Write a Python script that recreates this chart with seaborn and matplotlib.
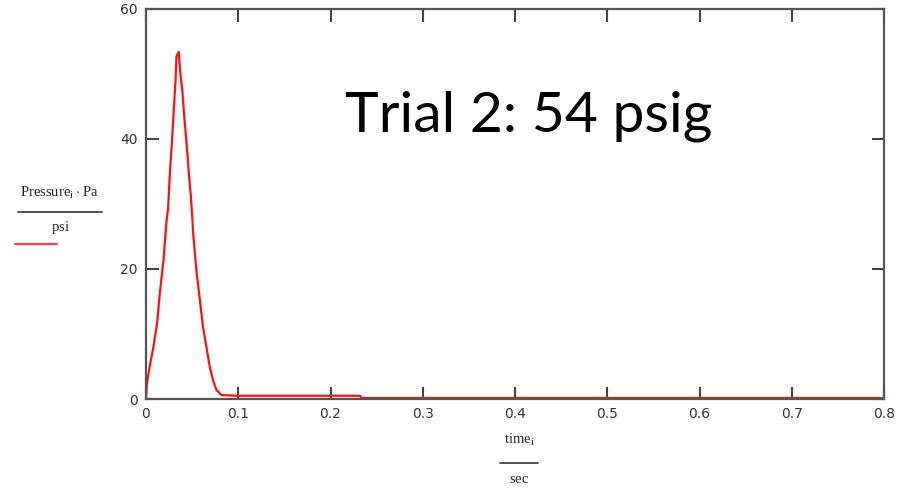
import matplotlib
matplotlib.use("Agg")
import matplotlib.pyplot as plt
import seaborn as sns
import pandas as pd
from matplotlib.lines import Line2D

# Pressure trace (psi) against time (s)
time_s = [0.000, 0.001, 0.004, 0.008, 0.012, 0.015, 0.019, 0.022, 0.024, 0.026,
          0.028, 0.030, 0.032, 0.033, 0.0355, 0.037, 0.0395, 0.041, 0.043, 0.045,
          0.0465, 0.0485, 0.050, 0.0511, 0.0546, 0.058, 0.0618, 0.0655, 0.069,
          0.0726, 0.0763, 0.0818, 0.100, 0.232, 0.234, 0.800]
pressure_psi = [0.0, 2.4, 5.0, 8.0, 11.6, 16.3, 21.4, 27.0, 29.5, 35.0,
                39.3, 44.2, 49.0, 52.7, 53.4, 50.4, 47.3, 44.2, 40.9, 37.5,
                34.5, 31.4, 28.3, 25.5, 19.8, 15.7, 11.1, 8.0, 5.0,
                2.9, 1.4, 0.6, 0.5, 0.5, 0.15, 0.15]

x_ticks = [0, 0.1, 0.2, 0.3, 0.4, 0.5, 0.6, 0.7, 0.8]
x_tick_labels = ["0", "0.1", "0.2", "0.3", "0.4", "0.5", "0.6", "0.7", "0.8"]
y_ticks = [0, 20, 40, 60]
y_tick_labels = ["0", "20", "40", "60"]

sns.set_theme(style="white")
plt.rcParams["mathtext.fontset"] = "custom"
plt.rcParams["mathtext.rm"] = "Liberation Serif"

df = pd.DataFrame({"time": time_s, "pressure": pressure_psi})

fig = plt.figure(figsize=(9.17, 4.90), dpi=100)
ax = fig.add_axes([146 / 917, 1 - 399 / 490, (884 - 146) / 917, (399 - 9) / 490])

sns.lineplot(data=df, x="time", y="pressure", ax=ax, color="#ff1010",
             linewidth=1.6, sort=False)

ax.set_xlim(0, 0.8)
ax.set_ylim(0, 60)
ax.set_xticks(x_ticks)
ax.set_xticklabels(x_tick_labels)
ax.set_yticks(y_ticks)
ax.set_yticklabels(y_tick_labels)
ax.set_xlabel("")
ax.set_ylabel("")

for sp in ax.spines.values():
    sp.set_visible(True)
    sp.set_color("#555555")
    sp.set_linewidth(1.6)

ax.tick_params(axis="both", which="both", direction="in", length=9, width=1.5,
               color="#444444", top=True, right=True, bottom=True, left=True,
               labelsize=10, labelcolor="#333333", pad=6)
for lbl in ax.get_xticklabels() + ax.get_yticklabels():
    lbl.set_family("DejaVu Sans")

# Annotation
fig.text(345 / 917, 1 - 131.5 / 490, "Trial 2: 54 psig", fontsize=41,
         family="Lato", color="black", ha="left", va="baseline")

# Y axis label as a units fraction, with the trace legend swatch beneath
fig.text(60 / 917, 1 - 193 / 490, r"$\mathrm{Pressure}_{\mathrm{i}}\cdot\mathrm{Pa}$",
         fontsize=10.5, ha="center", va="center", color="#222222")
fig.add_artist(Line2D([18 / 917, 102 / 917], [1 - 212 / 490, 1 - 212 / 490],
                      color="#333333", linewidth=1.2))
fig.text(60 / 917, 1 - 227 / 490, r"$\mathrm{psi}$", fontsize=10.5,
         ha="center", va="center", color="#222222")
fig.add_artist(Line2D([15 / 917, 57 / 917], [1 - 244 / 490, 1 - 244 / 490],
                      color="#ff4040", linewidth=1.6))

# X axis label as a units fraction
fig.text(519 / 917, 1 - 440 / 490, r"$\mathrm{time}_{\mathrm{i}}$",
         fontsize=10.5, ha="center", va="center", color="#222222")
fig.add_artist(Line2D([500 / 917, 538 / 917], [1 - 463 / 490, 1 - 463 / 490],
                      color="#333333", linewidth=1.2))
fig.text(519 / 917, 1 - 478 / 490, r"$\mathrm{sec}$", fontsize=10.5,
         ha="center", va="center", color="#222222")

fig.savefig("out.png", dpi=100)
